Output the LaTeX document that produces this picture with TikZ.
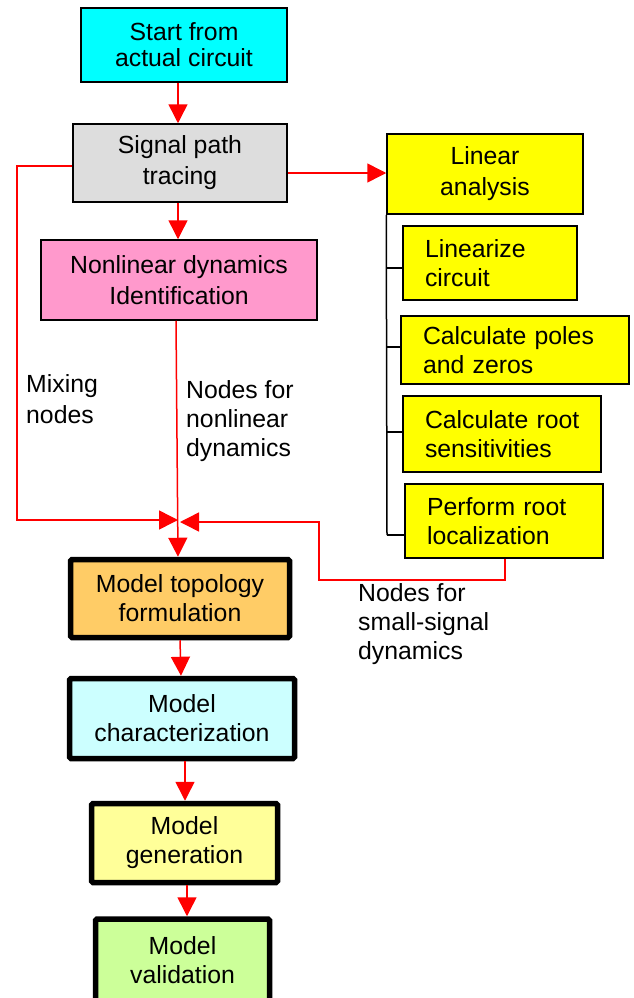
\documentclass[tikz,border=0pt]{standalone}
\usepackage{fontspec}
\setmainfont{Liberation Sans}
\usetikzlibrary{arrows.meta}
\definecolor{cstart}{HTML}{00FFFF}
\definecolor{csig}{HTML}{DDDDDD}
\definecolor{cnon}{HTML}{FF99CC}
\definecolor{cyel}{HTML}{FFFF00}
\definecolor{ctopo}{HTML}{FFCC66}
\definecolor{cchar}{HTML}{CCFFFF}
\definecolor{cgen}{HTML}{FFFF99}
\definecolor{cval}{HTML}{CCFF99}
\definecolor{cred}{HTML}{FF0000}
\hbadness=10000 \hfuzz=100pt
\tikzset{
  txt/.style={font=\fontsize{24.8}{29}\selectfont},
  thinbox/.style={txt, draw=black, line width=1.5pt, align=center, inner sep=0pt},
  thickbox/.style={txt, draw=black, line width=5.5pt, align=center, inner sep=0pt, rounded corners=1.5pt},
  subbox/.style={txt, draw=black, line width=1.5pt, align=left, inner ysep=0pt, inner xsep=22pt},
  lbl/.style={txt, align=left, inner sep=0pt, anchor=north west},
  flow/.style={draw=cred, line width=1.5pt, -{Triangle[width=19pt,length=19pt]}},
  blk/.style={draw=black, line width=1.5pt},
}
\begin{document}
\begin{tikzpicture}[x=1pt,y=-1pt]
\clip (0,0) rectangle (633,998);
\useasboundingbox (0,0) rectangle (633,998);
\fill[white] (0,0) rectangle (633,998);

\node[thinbox, fill=cstart, minimum width=206pt, minimum height=74pt, font=\fontsize{24.8}{26}\selectfont] (start) at (184,45) {Start from\\actual circuit};
\node[thinbox, fill=csig, minimum width=214pt, minimum height=78pt, font=\fontsize{24.8}{31}\selectfont] (sig) at (180,163) {Signal path\\tracing};
\node[thinbox, fill=cnon, minimum width=276pt, minimum height=80pt, font=\fontsize{24.8}{31}\selectfont] (non) at (179,280) {Nonlinear dynamics\\Identification};
\node[thinbox, fill=cyel, minimum width=196pt, minimum height=80pt, font=\fontsize{24.8}{31}\selectfont] (lin) at (485,174) {Linear\\analysis};

\node[subbox, fill=cyel, text width=130pt, minimum height=74pt] (linz) at (490,263) {Linearize\\circuit};
\node[subbox, fill=cyel, text width=184pt, minimum height=68pt] (poles) at (515,350) {Calculate~poles\\and~zeros};
\node[subbox, fill=cyel, text width=154pt, minimum height=76pt] (sens) at (502,434) {Calculate~root\\sensitivities};
\node[subbox, fill=cyel, text width=154pt, minimum height=74pt] (perf) at (504,521) {Perform~root\\localization};

\node[thickbox, fill=ctopo, minimum width=219pt, minimum height=78pt] (topo) at (180,598.5) {Model topology\\formulation};
\node[thickbox, fill=cchar, minimum width=225pt, minimum height=80pt] (char) at (182,718.5) {Model\\characterization};
\node[thickbox, fill=cgen, minimum width=186pt, minimum height=79pt] (gen) at (184.5,843) {Model\\generation};
\node[thickbox, fill=cval, minimum width=174pt, minimum height=82pt] (val) at (182.5,960) {Model\\validation};

% labels
\node[lbl, font=\fontsize{24.8}{31}\selectfont] (mix) at (26,374) {Mixing\\nodes};
\node[lbl] (nnl) at (186,380) {Nodes for\\nonlinear\\dynamics};
\node[lbl] (nss) at (358,583) {Nodes for\\small-signal\\dynamics};

% coordinates
\coordinate (j) at (178,520);
\coordinate (jr) at (180,522);

% main flow
\draw[flow] (start.south -| 178,0) -- (sig.north -| 178,0);
\draw[flow] (sig.south -| 178,0) -- (non.north -| 178,0);
\draw[flow] (sig.east |- 0,173) -- (lin.west |- 0,173);
\draw[flow] (non.south -| 176,0) -- (topo.north -| 178,0);
\draw[flow] (topo.south -| 180,0) -- (char.north -| 181,0);
\draw[flow] (char.south -| 185,0) -- (gen.north -| 185,0);
\draw[flow] (gen.south -| 187,0) -- (val.north -| 187,0);

% mixing nodes path
\draw[flow] (sig.west |- 0,166) -- (17,166) -- (17,520) -- (j);
% small-signal path
\draw[flow] (perf.south -| 505,0) -- (505,580) -- (319,580) -- (319,522) -- (jr);

% linear analysis tree
\draw[blk] (lin.south west) -- (387,535);
\draw[blk] (387,268) -- (linz.west |- 0,268);
\draw[blk] (387,347) -- (poles.west |- 0,347);
\draw[blk] (387,432) -- (sens.west |- 0,432);
\draw[blk] (387,535) -- (perf.west |- 0,535);
\end{tikzpicture}
\end{document}
